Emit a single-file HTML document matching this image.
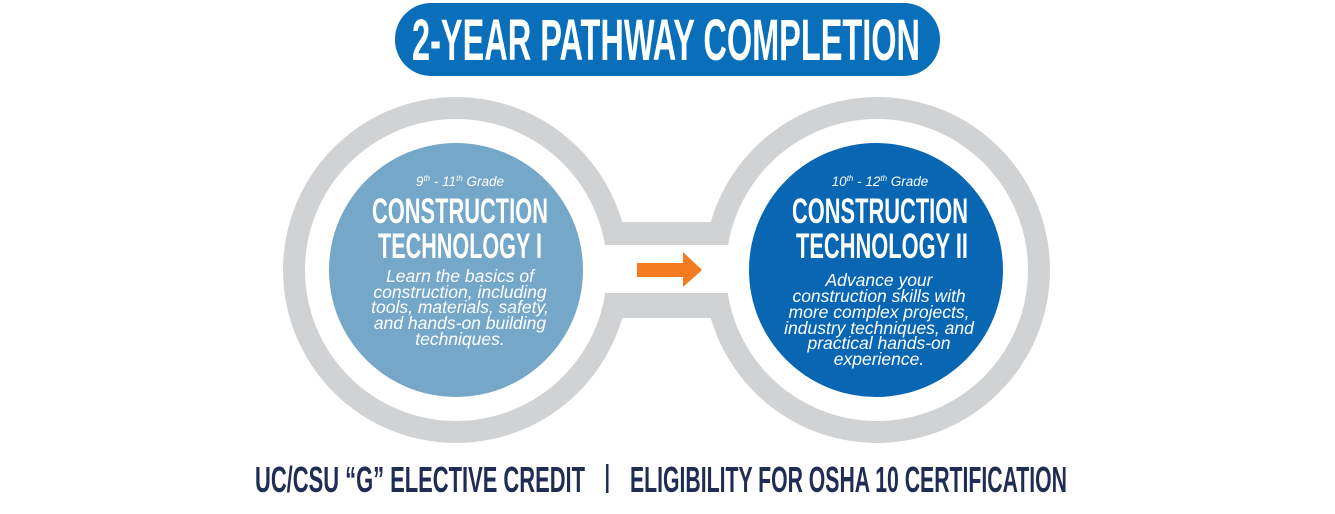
<!DOCTYPE html>
<html><head><meta charset="utf-8"><style>
html,body{margin:0;padding:0;background:#fff;}
svg{display:block;}
.cond{font-family:"Liberation Sans Narrow","Liberation Sans",sans-serif;font-weight:bold;}
.it{font-family:"Liberation Sans",sans-serif;font-style:italic;fill:#fff;}
</style></head><body>
<svg width="1335" height="514" viewBox="0 0 1335 514" xmlns="http://www.w3.org/2000/svg">
<rect width="1335" height="514" fill="#fff"/>
<rect x="395" y="3" width="545" height="73" rx="36" fill="#0a6fba"/>
<text class="cond" x="412" y="60" font-size="58" fill="#fff" textLength="508" lengthAdjust="spacingAndGlyphs">2-YEAR PATHWAY COMPLETION</text>
<g fill="#d1d2d4">
<circle cx="456" cy="270" r="173"/>
<circle cx="877" cy="270" r="173"/>
<rect x="456" y="222" width="421" height="96"/>
</g>
<g fill="#fff">
<circle cx="456" cy="270" r="151"/>
<circle cx="877" cy="270" r="151"/>
<rect x="456" y="245" width="421" height="48"/>
</g>
<circle cx="456" cy="270" r="127" fill="#74a7c8"/>
<circle cx="876" cy="270" r="127" fill="#0866b2"/>
<polygon points="637,263 683,263 683,252 702,270 683,287 683,277 637,277" fill="#f47b20"/>
<text class="it" x="460" y="186" font-size="13.5" text-anchor="middle">9<tspan font-size="8" dy="-5">th</tspan><tspan dy="5"> - 11</tspan><tspan font-size="8" dy="-5">th</tspan><tspan dy="5">  Grade</tspan></text>
<text class="cond" x="372" y="223" font-size="35" fill="#fff" textLength="176" lengthAdjust="spacingAndGlyphs">CONSTRUCTION</text>
<text class="cond" x="378" y="258" font-size="35" fill="#fff" textLength="164" lengthAdjust="spacingAndGlyphs">TECHNOLOGY I</text>
<g class="it" font-size="17.5" text-anchor="middle">
<text x="460" y="282">Learn the basics of</text>
<text x="460" y="298">construction, including</text>
<text x="460" y="313">tools, materials, safety,</text>
<text x="460" y="329">and hands-on building</text>
<text x="460" y="345">techniques.</text>
</g>
<text class="it" x="880" y="186" font-size="13.5" text-anchor="middle">10<tspan font-size="8" dy="-5">th</tspan><tspan dy="5"> - 12</tspan><tspan font-size="8" dy="-5">th</tspan><tspan dy="5"> Grade</tspan></text>
<text class="cond" x="792" y="223" font-size="35" fill="#fff" textLength="176" lengthAdjust="spacingAndGlyphs">CONSTRUCTION</text>
<text class="cond" x="796" y="258" font-size="35" fill="#fff" textLength="172" lengthAdjust="spacingAndGlyphs">TECHNOLOGY II</text>
<g class="it" font-size="17.5" text-anchor="middle">
<text x="879" y="286">Advance your</text>
<text x="879" y="302">construction skills with</text>
<text x="879" y="318">more complex projects,</text>
<text x="879" y="334">industry techniques, and</text>
<text x="879" y="349">practical hands-on</text>
<text x="879" y="365">experience.</text>
</g>
<g class="cond" font-size="36" fill="#1f2d54">
<text x="255" y="492" textLength="330" lengthAdjust="spacingAndGlyphs">UC/CSU “G” ELECTIVE CREDIT</text>
<text x="630" y="492" textLength="437" lengthAdjust="spacingAndGlyphs">ELIGIBILITY FOR OSHA 10 CERTIFICATION</text>
</g>
<rect x="606" y="464" width="2.5" height="29" fill="#1f2d54"/>
</svg>
</body></html>
